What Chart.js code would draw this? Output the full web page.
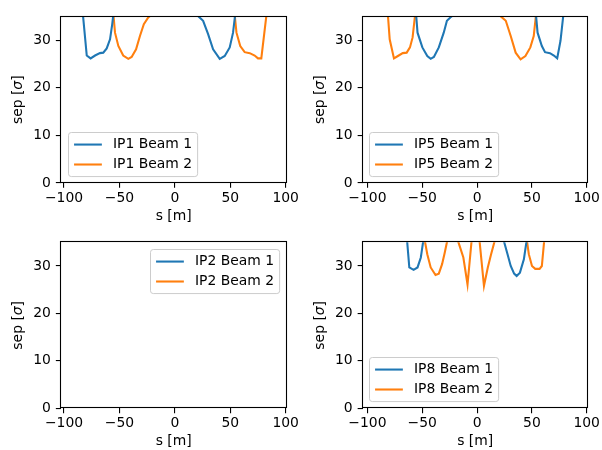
<!DOCTYPE html>
<html><head><meta charset="utf-8">
<script src="https://cdn.jsdelivr.net/npm/chart.js@4.4.1/dist/chart.umd.min.js"></script>
<style>
html,body{margin:0;padding:0;background:#fff;}
#wrap{position:relative;width:602px;height:450px;overflow:hidden;background:#fff;}
canvas{position:absolute;}
</style></head><body><div id="wrap">
<canvas id="c1"></canvas><canvas id="c2"></canvas><canvas id="c3"></canvas><canvas id="c4"></canvas>
</div>
<script>
// ---------- data ----------
const xTickValues = [-100, -50, 0, 50, 100];
const yTickValues = [0, 10, 20, 30];
const xTitle = 's [m]';

const ip1Beam1S   = [-93, -88, -84, -79.5, -76, -72, -67.6, -64.6, -61.5, -58.5, -56.5, -54.5, -50, -30, 0, 12, 17, 21, 25.5, 30, 34.5, 40.5, 45, 49.5, 52.5, 55.5, 58, 70, 92];
const ip1Beam1Sep = [62, 52, 38, 26.8, 26.2, 26.8, 27.3, 27.4, 28.3, 30.2, 33.4, 37.5, 44, 52, 55, 44, 37, 35.1, 34.1, 31.3, 28.1, 26.1, 26.7, 28.5, 31.6, 37.5, 44, 55, 62];
const ip1Beam2S   = [-93, -75, -62, -57, -54, -51, -46.6, -42, -39, -35, -31.5, -28, -24, -20, -14, 0, 30, 45, 52, 55.6, 59, 63, 67.6, 72, 75, 78, 83.5, 88, 92];
const ip1Beam2Sep = [62, 55, 45, 39.5, 31.6, 28.8, 26.8, 26.1, 26.5, 28.1, 30.9, 33.4, 34.8, 35.6, 38, 50, 55, 46, 40, 31.6, 28.8, 27.5, 27.3, 26.8, 26.2, 26.2, 37, 50, 62];

const ip5Beam1S   = [-93, -75, -62, -57, -54.3, -49.9, -45.4, -42.3, -39.4, -34.9, -30.4, -27.5, -24.4, -20, -14, 0, 30, 45, 52.5, 55.2, 59.1, 62, 66.5, 70.1, 73.1, 76.1, 79.5, 86, 92];
const ip5Beam1Sep = [62, 55, 45, 39.5, 31.6, 28.5, 26.7, 26.1, 26.5, 28.5, 31.6, 34.1, 34.8, 35.6, 38, 50, 55, 46, 38.5, 31.6, 28.8, 27.5, 27.3, 26.8, 26.2, 29.9, 37, 50, 62];
const ip5Beam2S   = [-93, -88, -82.5, -79.7, -75.8, -72.2, -67.8, -64.2, -61.2, -58.8, -56.7, -54.5, -50, -30, 0, 12, 17, 21.8, 26.2, 30.7, 35.2, 39.7, 44.1, 48.6, 51.7, 55, 60, 75, 92];
const ip5Beam2Sep = [62, 52, 39, 30.2, 26.2, 26.7, 27.3, 27.4, 28.5, 30.6, 35, 39, 44, 52, 55, 44, 37, 35.0, 34.1, 30.9, 27.4, 26.0, 26.7, 28.5, 30.9, 38, 48, 55, 62];

const ip2Beam1S   = [-93, -60, -30, 0, 30, 60, 92];
const ip2Beam1Sep = [60, 55, 50, 48, 50, 55, 60];
const ip2Beam2S   = [-93, -60, -30, 0, 30, 60, 92];
const ip2Beam2Sep = [60, 55, 50, 48, 50, 55, 60];

const ip8Beam1S   = [-95, -80, -70, -65.5, -61.8, -57.9, -54.3, -51.3, -48, -40, -20, 0, 15, 22, 27.8, 30.7, 33.8, 36.1, 39.1, 42.7, 46.5, 55, 70, 92];
const ip8Beam1Sep = [62, 55, 46, 40, 29.7, 29.2, 29.7, 31.8, 37, 46, 55, 55, 44, 37.3, 32.5, 30.0, 28.4, 27.9, 28.6, 31.4, 37.4, 47, 55, 62];
const ip8Beam2S   = [-95, -70, -55, -49, -45.4, -42.3, -37.9, -34.9, -31.9, -29.5, -25.5, -21, -16, -12.5, -8.7, -4, -1, 1.2, 6.3, 9.8, 12.8, 17.5, 25, 38, 44, 47.2, 50.1, 53.1, 57, 59.1, 62.5, 70, 92];
const ip8Beam2Sep = [62, 55, 46, 37, 32.5, 29.7, 28.1, 28.4, 30.4, 32.8, 37.2, 37.8, 34.3, 31.8, 26.1, 37.8, 42, 37.8, 25.8, 29.7, 32.5, 36.5, 44, 46, 37.8, 32.5, 30.0, 29.4, 29.4, 30.0, 38.5, 48, 62];

// ---------- styling / layout ----------
const FS = 13.9;
const FAM = '"DejaVu Sans", sans-serif';
const COLORS = ['#1f77b4', '#ff7f0e'];
Chart.defaults.font.family = FAM;
Chart.defaults.font.size = FS;
Chart.defaults.color = '#000';

const panels = [
  {id:'c1', box:[0,0,301,225],   area:{left:60.7, top:16.5, right:287, bottom:183},   xr:[-103,100.8], legend:'lower left', ylabX:18.3,
   series:[['IP1 Beam 1', ip1Beam1S, ip1Beam1Sep], ['IP1 Beam 2', ip1Beam2S, ip1Beam2Sep]]},
  {id:'c2', box:[301,0,301,225], area:{left:362.5, top:16.5, right:591.5, bottom:183}, xr:[-104.5,101], legend:'lower left', ylabX:320,
   series:[['IP5 Beam 1', ip5Beam1S, ip5Beam1Sep], ['IP5 Beam 2', ip5Beam2S, ip5Beam2Sep]]},
  {id:'c3', box:[0,225,301,225], area:{left:60.7, top:242.3, right:287, bottom:408.3}, xr:[-103,100.8], legend:'upper right', ylabX:18.3,
   series:[['IP2 Beam 1', ip2Beam1S, ip2Beam1Sep], ['IP2 Beam 2', ip2Beam2S, ip2Beam2Sep]]},
  {id:'c4', box:[301,225,301,225], area:{left:362.5, top:242.3, right:591.5, bottom:408.3}, xr:[-104.5,101], legend:'lower left', ylabX:320,
   series:[['IP8 Beam 1', ip8Beam1S, ip8Beam1Sep], ['IP8 Beam 2', ip8Beam2S, ip8Beam2Sep]]},
];

const fmt = v => String(v).replace('-', '\u2212');

const mplPlugin = {
  id: 'mpl',
  afterDatasetsDraw(chart, args, o) {
    const {ctx, chartArea: a} = chart;
    ctx.save();
    // frame (spines)
    ctx.strokeStyle = '#000'; ctx.lineWidth = 1.1;
    const L = Math.round(a.left) - 0.5, T = Math.round(a.top) - 0.5, R = Math.round(a.right) - 0.5, B = Math.round(a.bottom) - 0.5;
    ctx.strokeRect(L, T, R - L, B - T);
    // legend
    ctx.font = FS + 'px ' + FAM;
    const ds = chart.data.datasets;
    const tw = Math.max(...ds.map(d => ctx.measureText(d.label).width));
    const pad = 0.4 * FS, hl = 2 * FS, hp = 0.8 * FS, rowH = 13, sp = 0.5 * FS, edge = 0.5 * FS;
    const w = pad + hl + hp + tw + pad;
    const h = pad * 2 + rowH * ds.length + sp * (ds.length - 1);
    let x0, y0;
    if (o.pos === 'upper right') { x0 = a.right - edge - w; y0 = a.top + edge; }
    else { x0 = a.left + edge; y0 = a.bottom - edge - h; }
    x0 = Math.round(x0) + 0.5; y0 = Math.round(y0) + 0.5;
    const r = 2.8;
    ctx.beginPath();
    ctx.moveTo(x0 + r, y0); ctx.lineTo(x0 + w - r, y0); ctx.quadraticCurveTo(x0 + w, y0, x0 + w, y0 + r);
    ctx.lineTo(x0 + w, y0 + h - r); ctx.quadraticCurveTo(x0 + w, y0 + h, x0 + w - r, y0 + h);
    ctx.lineTo(x0 + r, y0 + h); ctx.quadraticCurveTo(x0, y0 + h, x0, y0 + h - r);
    ctx.lineTo(x0, y0 + r); ctx.quadraticCurveTo(x0, y0, x0 + r, y0); ctx.closePath();
    ctx.fillStyle = 'rgba(255,255,255,0.8)'; ctx.fill();
    ctx.strokeStyle = '#cccccc'; ctx.lineWidth = 1; ctx.stroke();
    ds.forEach((d, i) => {
      const cy = y0 + pad + rowH / 2 + i * (rowH + sp);
      ctx.strokeStyle = d.borderColor; ctx.lineWidth = 2.08;
      ctx.beginPath(); ctx.moveTo(x0 + pad, cy); ctx.lineTo(x0 + pad + hl, cy); ctx.stroke();
      ctx.fillStyle = '#000'; ctx.textBaseline = 'middle'; ctx.textAlign = 'left';
      ctx.fillText(d.label, x0 + pad + hl + hp, cy);
    });
    ctx.restore();
  },
  afterDraw(chart, args, o) {
    const {ctx, chartArea: a} = chart;
    ctx.save();
    ctx.translate(o.ylabX, (a.top + a.bottom) / 2);
    ctx.rotate(-Math.PI / 2);
    ctx.fillStyle = '#000'; ctx.textBaseline = 'middle'; ctx.textAlign = 'left';
    const parts = [['sep [', ''], ['\u03c3', 'italic '], [']', '']];
    let total = 0;
    parts.forEach(p => { ctx.font = p[1] + FS + 'px ' + FAM; total += ctx.measureText(p[0]).width; });
    let x = -total / 2;
    parts.forEach(p => { ctx.font = p[1] + FS + 'px ' + FAM; ctx.fillText(p[0], x, 0); x += ctx.measureText(p[0]).width; });
    ctx.restore();
  }
};

function build(p) {
  const cv = document.getElementById(p.id);
  const [cl, ct, cw, ch] = p.box;
  cv.width = cw; cv.height = ch;
  cv.style.left = cl + 'px'; cv.style.top = ct + 'px';
  cv.style.width = cw + 'px'; cv.style.height = ch + 'px';
  const a = p.area;
  const xAxisH = 40.8;
  const gridOpts = {drawOnChartArea: false, drawTicks: true, tickLength: 4.86, color: '#000', tickColor: '#000', tickWidth: 1.1, lineWidth: 1.1};
  new Chart(cv, {
    type: 'line',
    data: {datasets: p.series.map((s, i) => ({
      label: s[0],
      data: s[1].map((x, j) => ({x: x, y: s[2][j]})),
      borderColor: COLORS[i], backgroundColor: COLORS[i],
      borderWidth: 2.08, pointRadius: 0, tension: 0, fill: false
    }))},
    options: {
      responsive: false, animation: false, devicePixelRatio: 1,
      layout: {padding: {left: 0, top: a.top - ct, right: cl + cw - a.right, bottom: ch - (a.bottom - ct) - xAxisH}},
      plugins: {legend: {display: false}, tooltip: {enabled: false}, mpl: {pos: p.legend, ylabX: p.ylabX - cl}},
      scales: {
        x: {type: 'linear', min: p.xr[0], max: p.xr[1],
            afterFit: s => { s.height = xAxisH; },
            afterBuildTicks: s => { s.ticks = xTickValues.map(v => ({value: v})); },
            ticks: {includeBounds: false, autoSkip: false, maxRotation: 0, padding: 2, color: '#000', callback: v => fmt(v)},
            grid: gridOpts, border: {display: false},
            title: {display: true, text: xTitle, color: '#000', padding: {top: 0, bottom: -1}}},
        y: {type: 'linear', min: 0, max: 35,
            afterFit: s => { s.width = a.left - cl; },
            afterBuildTicks: s => { s.ticks = yTickValues.map(v => ({value: v})); },
            ticks: {includeBounds: false, autoSkip: false, padding: 5, color: '#000', callback: v => fmt(v)},
            grid: gridOpts, border: {display: false}}
      }
    },
    plugins: [mplPlugin]
  });
}
panels.forEach(build);
</script>
</body></html>
